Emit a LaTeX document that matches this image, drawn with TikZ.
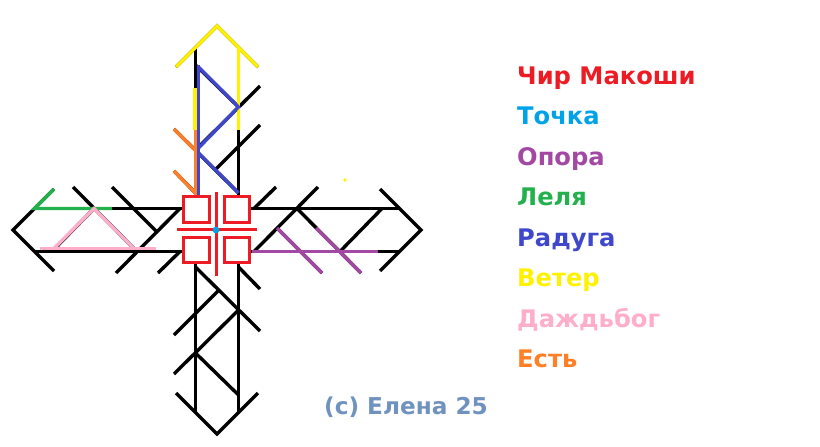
\documentclass[tikz,border=0pt]{standalone}
\usepackage{fontspec}
\usetikzlibrary{calc}
\setmainfont{DejaVu Sans}
\definecolor{pRed}{HTML}{ED1C24}
\definecolor{pCyan}{HTML}{00A2E8}
\definecolor{pPurple}{HTML}{A349A4}
\definecolor{pGreen}{HTML}{22B14C}
\definecolor{pBlue}{HTML}{3F48CC}
\definecolor{pYellow}{HTML}{FFF200}
\definecolor{pPink}{HTML}{FFAEC9}
\definecolor{pOrange}{HTML}{FF7F27}
\definecolor{pGray}{HTML}{7092BE}
\tikzset{
  ln/.style={line width=3.4pt},
  redln/.style={line width=3pt, draw=pRed},
  legend/.style={anchor=base west, inner sep=0pt, font=\fontsize{24.2}{26}\selectfont\bfseries},
  crstyle/.style={anchor=base west, inner sep=0pt, font=\fontsize{23.2}{25}\selectfont\bfseries},
}
\newcommand{\runearm}{%
  \draw[ln] (-21.5,33) -- (-21.5,183);
  \draw[ln] (21.5,33) -- (21.5,183);
  \draw[ln] (-41,163) -- (-21.5,182.5) -- (0,204) -- (21.5,182.5) -- (41,163);
  \draw[ln] (-21.5,37) -- (43,101);
  \draw[ln] (-43,105) -- (2,60);
  \draw[ln] (21.5,37) -- (43,59);
  \draw[ln] (-43,144) -- (21.5,80);
  \draw[ln] (-21.5,123) -- (21.5,165);
}
\begin{document}
\begin{tikzpicture}[x=1pt,y=-1pt]
\useasboundingbox[fill=white] (0,0) rectangle (820,447);
\coordinate (O) at (217,230);
\coordinate (C) at (216.5,229.5);
% black arms
\begin{scope}[shift={(O)}]\runearm\end{scope}
\begin{scope}[shift={(O)},rotate=90]\runearm\end{scope}
\begin{scope}[shift={(O)},rotate=180]\runearm\end{scope}
\begin{scope}[shift={(O)},rotate=270]\runearm\end{scope}
% top arm colours
\begin{scope}[shift={(O)},rotate=180]
  \draw[ln,pYellow] (-41,163) -- (-21.5,182.5) -- (0,204) -- (21.5,182.5) -- (41,163);
  \draw[ln,pYellow] (-21.5,100) -- (-21.5,183);
  \draw[ln,pYellow] (22,100) -- (22,142);
  \draw[ln,pOrange] (21.5,34) -- (21.5,100);
  \draw[ln,pOrange] (22,80) -- (43,101);
  \draw[ln,pOrange] (21.5,37) -- (43,59);
  \draw[ln,pBlue] (18.5,34) -- (18.5,165);
  \draw[ln,pBlue] (18.5,163) -- (-21.5,123) -- (18.5,82);
  \draw[ln,pBlue] (18.5,77) -- (-21.5,37);
\end{scope}
% left arm colours
\begin{scope}[shift={(O)},rotate=270]
  \draw[ln,pGreen] (-21.5,105) -- (-21.5,182.5) -- (-41,163);
  \draw[ln,pPink] (18.5,61) -- (18.5,177);
  \draw[ln,pPink] (18.5,163) -- (-21.5,123) -- (18.5,83);
\end{scope}
% right arm colours
\begin{scope}[shift={(O)},rotate=90]
  \draw[ln,pPurple] (-21.5,35) -- (-21.5,161);
  \draw[ln,pPurple] (-43,105) -- (2,60);
  \draw[ln,pPurple] (-43,144) -- (2,99);
\end{scope}
% centre: four boxes and cross
\draw[redln, fill=white] ($(C)+(-33,-33)$) rectangle ($(C)+(-7.5,-7.5)$);
\draw[redln, fill=white] ($(C)+(7.5,-33)$) rectangle ($(C)+(33,-7.5)$);
\draw[redln, fill=white] ($(C)+(-33,7.5)$) rectangle ($(C)+(-7.5,33)$);
\draw[redln, fill=white] ($(C)+(7.5,7.5)$) rectangle ($(C)+(33,33)$);
\draw[redln] ($(C)+(-39.5,0)$) -- ($(C)+(40.5,0)$);
\draw[redln] ($(C)+(0,-37.5)$) -- ($(C)+(0,46)$);
\fill[pCyan] (216,230) circle (3.4);
\fill[pYellow] (345,180) circle (1.8);
% legend
\node[legend, text=pRed]    (l1) at (517,84)  {Чир Макоши};
\node[legend, text=pCyan]   (l2) at (517,124.5) {Точка};
\node[legend, text=pPurple] (l3) at (517,165) {Опора};
\node[legend, text=pGreen]  (l4) at (517,205.5) {Леля};
\node[legend, text=pBlue]   (l5) at (517,246) {Радуга};
\node[legend, text=pYellow] (l6) at (517,286) {Ветер};
\node[legend, text=pPink]   (l7) at (517,327) {Даждьбог};
\node[legend, text=pOrange] (l8) at (517,367) {Есть};
\node[crstyle, text=pGray]  (cr) at (324,414) {(c) Елена 25};
\end{tikzpicture}
\end{document}
